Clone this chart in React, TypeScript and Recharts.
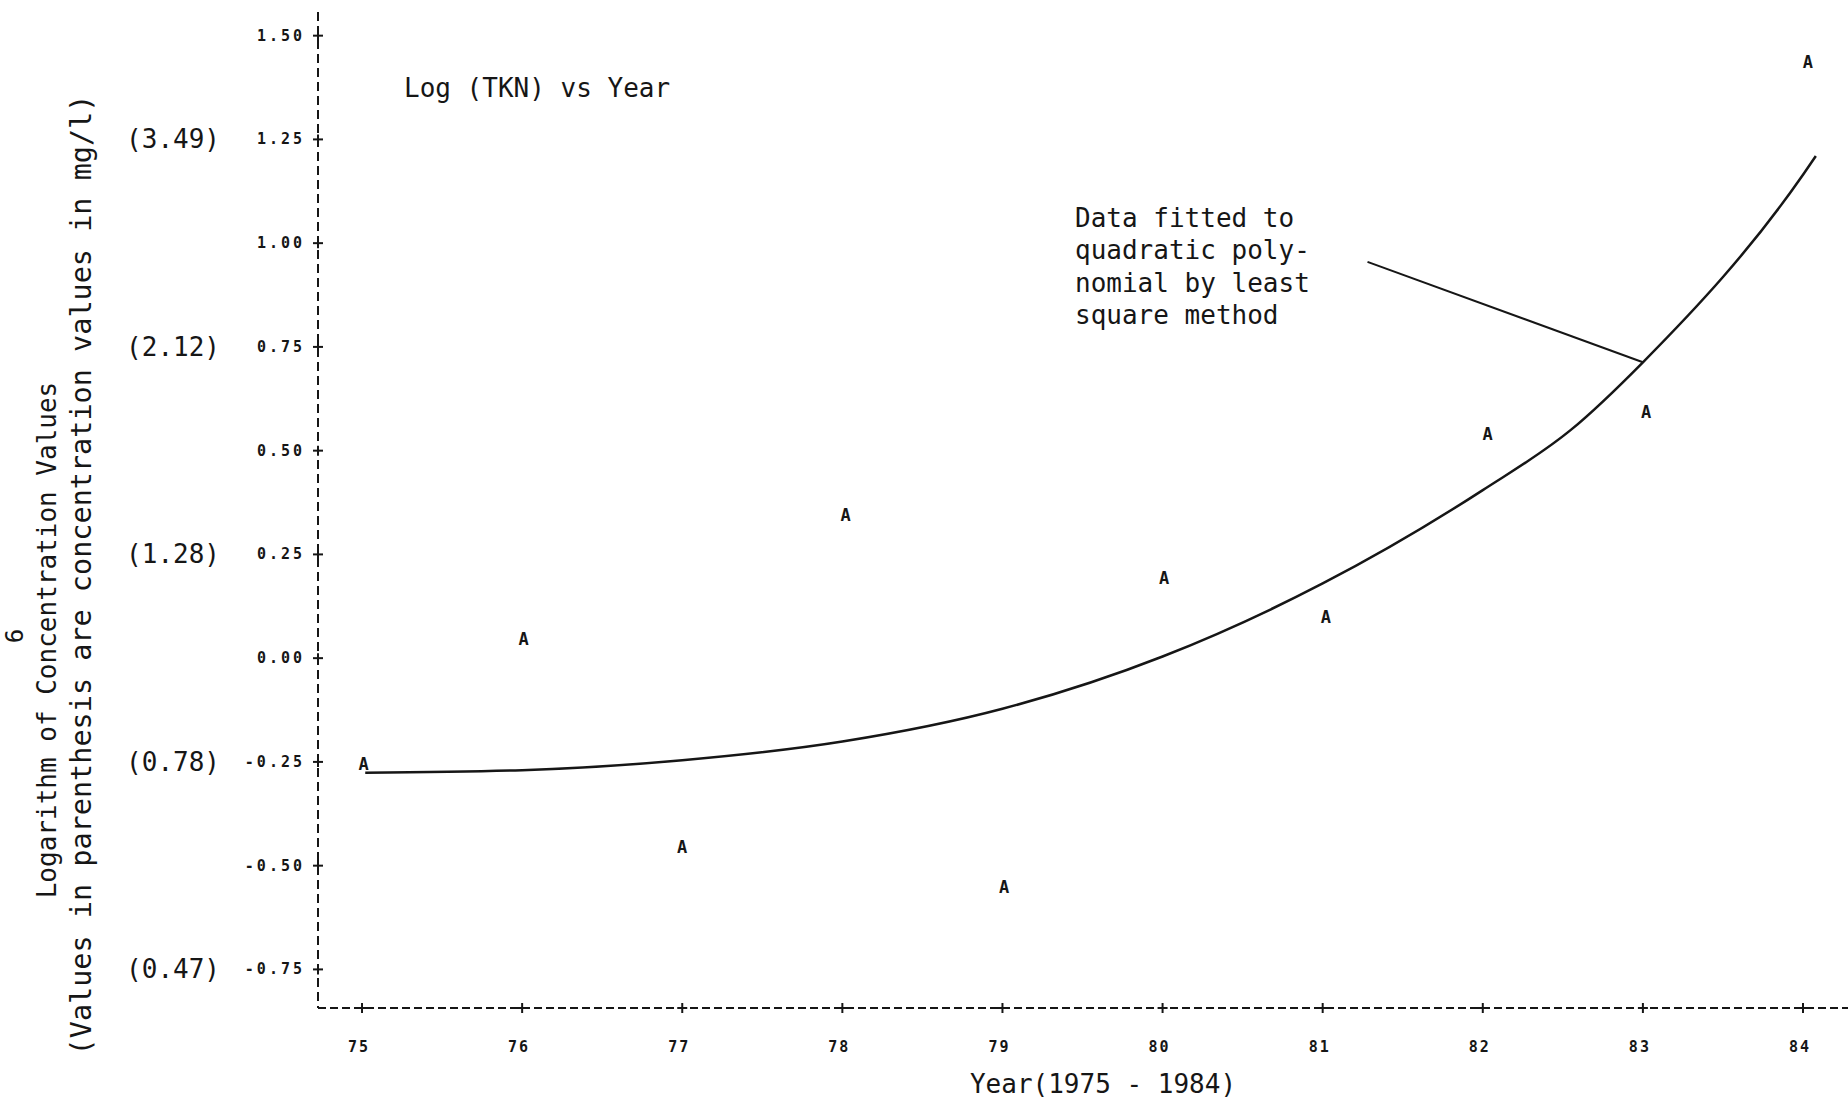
import React from 'react';
import { ComposedChart, Line, Scatter, XAxis, YAxis, ReferenceLine, Customized } from 'recharts';

// ---- data ----
const years = [75, 76, 77, 78, 79, 80, 81, 82, 83, 84];
const sampleYears = [75.01, 76.01, 77.0, 78.02, 79.01, 80.01, 81.02, 82.03, 83.02, 84.03];
const logTkn = [-0.254, 0.045, -0.455, 0.344, -0.552, 0.192, 0.098, 0.541, 0.594, 1.437];

const fitYears = [75.02, 76, 77, 78, 79, 80, 81, 82, 82.55, 83, 84, 84.08];
const fitValues = [-0.276, -0.27, -0.246, -0.201, -0.122, 0.004, 0.18, 0.405, 0.55, 0.713, 1.165, 1.21];

const yTicks = [1.5, 1.25, 1.0, 0.75, 0.5, 0.25, 0, -0.25, -0.5, -0.75];
const yTickLabels = ['1.50', '1.25', '1.00', '0.75', '0.50', '0.25', '0.00', '-0.25', '-0.50', '-0.75'];
const concTicks = [1.25, 0.75, 0.25, -0.25, -0.75];
const concLabels = ['(3.49)', '(2.12)', '(1.28)', '(0.78)', '(0.47)'];
const xTickLabels = ['75', '76', '77', '78', '79', '80', '81', '82', '83', '84'];

const chartTitle = 'Log (TKN) vs Year';
const xTitle = 'Year(1975 - 1984)';
const yTitle1 = 'Logarithm of Concentration Values';
const yTitle2 = '(Values in parenthesis are concentration values in mg/l)';
const pageNumber = '6';
const annotationLines = ['Data fitted to', 'quadratic poly-', 'nomial by least', 'square method'];
const arrowFrom = { x: 81.28, y: 0.955 };
const arrowTo = { x: 83.0, y: 0.713 };

const pointData = sampleYears.map((year, i) => ({ year, value: logTkn[i] }));
const fitData = fitYears.map((year, i) => ({ year, fit: fitValues[i] }));

const INK = '#161616';
const MONO = '"DejaVu Sans Mono", "Liberation Mono", monospace';

const YTick = (props: any) => {
  const { x, y, payload } = props;
  const i = yTicks.indexOf(payload.value);
  const ci = concTicks.indexOf(payload.value);
  return (
    <g>
      <line x1={x - 5} x2={x + 5} y1={y} y2={y} stroke={INK} strokeWidth={2} />
      <line x1={x} x2={x} y1={y - 5} y2={y + 5} stroke={INK} strokeWidth={2} />
      <text x={x - 13} y={y} textAnchor="end" dominantBaseline="central" fontSize={15} fontWeight="bold"
        letterSpacing={3} fontFamily={MONO} fill={INK}>{yTickLabels[i]}</text>
      {ci >= 0 && (
        <text x={x - 98} y={y} textAnchor="end" dominantBaseline="central" fontSize={26}
          fontFamily={MONO} fill={INK}>{concLabels[ci]}</text>
      )}
    </g>
  );
};

const XTick = (props: any) => {
  const { x, y, payload } = props;
  const i = years.indexOf(payload.value);
  return (
    <g>
      <line x1={x} x2={x} y1={y - 5} y2={y + 5} stroke={INK} strokeWidth={2} />
      <line x1={x - 5} x2={x + 5} y1={y} y2={y} stroke={INK} strokeWidth={2} />
      <text x={x - 3} y={y + 39} textAnchor="middle" dominantBaseline="central" fontSize={15} fontWeight="bold"
        letterSpacing={2} fontFamily={MONO} fill={INK}>{xTickLabels[i]}</text>
    </g>
  );
};

const LetterA = (props: any) => {
  const { cx, cy } = props;
  return (
    <text x={cx} y={cy} textAnchor="middle" dominantBaseline="central" fontSize={17} fontWeight="bold"
      fontFamily={MONO} fill={INK}>A</text>
  );
};

const Texts = () => (
  <g fontFamily={MONO} fill={INK}>
    <text x={404} y={88} dominantBaseline="central" fontSize={26}>{chartTitle}</text>
    {annotationLines.map((t, i) => (
      <text key={t} x={1075} y={218 + i * 32.3} dominantBaseline="central" fontSize={26}>{t}</text>
    ))}
    <text x={1103} y={1084} textAnchor="middle" dominantBaseline="central" fontSize={26}>{xTitle}</text>
    <text transform="translate(47,640) rotate(-90)" textAnchor="middle" dominantBaseline="central" fontSize={26}>{yTitle1}</text>
    <text transform="translate(81,575) rotate(-90)" textAnchor="middle" dominantBaseline="central" fontSize={28.5}>{yTitle2}</text>
    <text transform="translate(15,636) rotate(-90)" textAnchor="middle" dominantBaseline="central" fontSize={24}>{pageNumber}</text>
  </g>
);

export default function App() {
  return (
    <div style={{ position: 'absolute', left: 0, top: 0, background: '#fff' }}>
      <ComposedChart width={1848} height={1105} data={fitData}
        margin={{ top: 12, right: 0, bottom: 0, left: 0 }}>
        <XAxis dataKey="year" type="number" domain={[74.725, 84.281]} allowDataOverflow
          ticks={years} interval={0} height={97} tickSize={0} tickMargin={0} tickLine={false}
          axisLine={{ stroke: INK, strokeWidth: 2, strokeDasharray: '8 4' }} tick={<XTick />} />
        <YAxis type="number" domain={[-0.843, 1.557]} allowDataOverflow ticks={yTicks} interval={0}
          width={318} tickSize={0} tickMargin={0} tickLine={false}
          axisLine={{ stroke: INK, strokeWidth: 2, strokeDasharray: '9 5' }} tick={<YTick />} />
        <Line dataKey="fit" type="monotone" stroke={INK} strokeWidth={2.5} dot={false}
          isAnimationActive={false} />
        <Scatter data={pointData} dataKey="value" shape={<LetterA />} isAnimationActive={false} />
        <ReferenceLine segment={[arrowFrom, arrowTo]} stroke={INK} strokeWidth={2} />
        <Customized component={<Texts />} />
      </ComposedChart>
    </div>
  );
}
